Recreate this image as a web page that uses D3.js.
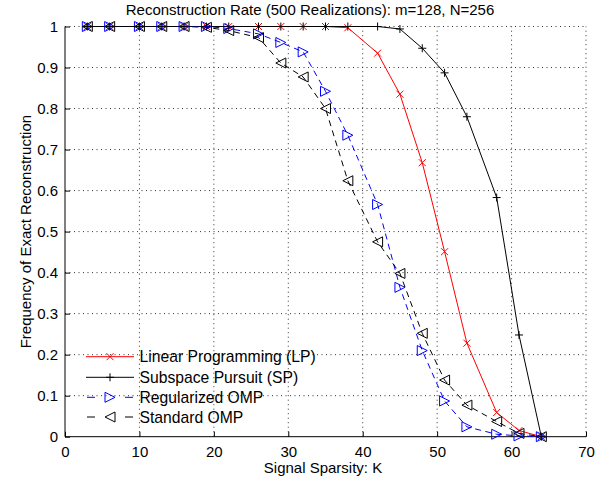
<!DOCTYPE html>
<html><head><meta charset="utf-8">
<script src="https://cdn.jsdelivr.net/npm/d3@7"></script>
<style>html,body{margin:0;padding:0;background:#fff}svg{display:block}text{font-family:"Liberation Sans",Arial,Helvetica,sans-serif}</style>
</head><body><svg id="c" width="609" height="485"></svg>
<script>
const sparsity = [3,6,10,13,16,19,22,26,29,32,35,38,42,45,48,51,54,58,61,64];
const lpValues   = [1,1,1,1,1,1,1,1,1,1,1,0.997,0.935,0.835,0.668,0.451,0.228,0.059,0.015,0];
const spValues   = [1,1,1,1,1,1,1,1,1,1,1,1,1,0.994,0.947,0.887,0.78,0.583,0.248,0];
const rompValues = [1,1,1,1,1,1,0.995,0.982,0.961,0.938,0.842,0.735,0.566,0.364,0.21,0.087,0.024,0.006,0.002,0];
const ompValues  = [1,1,1,1,1,0.998,0.99,0.973,0.911,0.877,0.8,0.624,0.475,0.398,0.252,0.138,0.077,0.037,0.008,0];
const seriesNames = ["Linear Programming (LP)","Subspace Pursuit (SP)","Regularized OMP","Standard OMP"];
const xTicks = [0,10,20,30,40,50,60,70];
const yTicks = [0,0.1,0.2,0.3,0.4,0.5,0.6,0.7,0.8,0.9,1];
const titleText = "Reconstruction Rate (500 Realizations): m=128, N=256";
const xLabel = "Signal Sparsity: K";
const yLabel = "Frequency of Exact Reconstruction";

const svg = d3.select("#c");
const L=65, R=586, T=26.5, B=436.7;
const x = d3.scaleLinear().domain([0,70]).range([L,R]);
const y = d3.scaleLinear().domain([0,1]).range([B,T]);

svg.append("rect").attr("width",609).attr("height",485).attr("fill","#fff");

// grid
const g = svg.append("g");
g.selectAll(".gx").data(xTicks.filter(d=>d>0)).join("line")
  .attr("x1",d=>x(d)).attr("x2",d=>x(d)).attr("y1",B).attr("y2",T)
  .attr("stroke","#333").attr("stroke-width",1).attr("stroke-dasharray","1,3.5");
g.selectAll(".gy").data(yTicks.filter(d=>d>0)).join("line")
  .attr("y1",d=>y(d)).attr("y2",d=>y(d)).attr("x1",L).attr("x2",R)
  .attr("stroke","#333").attr("stroke-width",1).attr("stroke-dasharray","1,3.5");

// axes
const xAxis = d3.axisBottom(x).tickValues(xTicks).tickSize(-5).tickPadding(10).tickFormat(d3.format("d"));
const yAxis = d3.axisLeft(y).tickValues(yTicks).tickSize(-5).tickPadding(7).tickFormat(d=>d===0||d===1?String(d):d3.format(".1f")(d));
const gx = svg.append("g").attr("transform",`translate(0,${B})`).call(xAxis);
const gy = svg.append("g").attr("transform",`translate(${L},0)`).call(yAxis);
[gx,gy].forEach(a=>{
  a.select(".domain").attr("stroke","#000").attr("stroke-width",1);
  a.selectAll(".tick line").attr("stroke","#000");
  a.selectAll("text").attr("font-size",15).attr("fill","#000").attr("font-family","Liberation Sans, Arial, sans-serif");
});
gx.select(".domain").attr("d",`M${L},0H${R}`);
gy.select(".domain").attr("d",`M0,${B}V${T}`);

// text
svg.append("text").attr("x",310).attr("y",14.5).attr("text-anchor","middle").attr("font-size",15).text(titleText);
svg.append("text").attr("x",323).attr("y",473).attr("text-anchor","middle").attr("font-size",15).text(xLabel);
svg.append("text").attr("transform",`translate(31,${(T+B)/2}) rotate(-90)`).attr("text-anchor","middle").attr("font-size",15).text(yLabel);

// series
const series = [
  {name:seriesNames[0], vals:lpValues, color:"#ff0000", dash:null, marker:"x"},
  {name:seriesNames[1], vals:spValues, color:"#000000", dash:null, marker:"+"},
  {name:seriesNames[2], vals:rompValues, color:"#0000ff", dash:"6,4.5", marker:">"},
  {name:seriesNames[3], vals:ompValues, color:"#000000", dash:"6,4.5", marker:"<"}
];
function markerPath(m){
  if(m==="x"){ const s=3.5; return `M${-s},${-s}L${s},${s}M${-s},${s}L${s},${-s}`; }
  if(m==="+"){ const s=4; return `M${-s},0L${s},0M0,${-s}L0,${s}`; }
  const s=5;
  if(m===">") return `M${-s},${-s}L${s},0L${-s},${s}Z`;
  if(m==="<") return `M${s},${-s}L${-s},0L${s},${s}Z`;
}
const line = d3.line().x(d=>x(d[0])).y(d=>y(d[1]));
series.forEach(s=>{
  const pts = sparsity.map((k,i)=>[k,s.vals[i]]);
  const sg = svg.append("g");
  sg.append("path").attr("d",line(pts)).attr("fill","none").attr("stroke",s.color).attr("stroke-width",1)
    .attr("stroke-dasharray",s.dash);
  sg.selectAll("path.m").data(pts).join("path").attr("class","m")
    .attr("transform",d=>`translate(${x(d[0])},${y(d[1])})`)
    .attr("d",markerPath(s.marker)).attr("fill","none").attr("stroke",s.color).attr("stroke-width",1);
});

// legend
const legY = [356.7,377.3,397.3,417];
series.forEach((s,i)=>{
  const lg = svg.append("g").attr("transform",`translate(0,${legY[i]})`);
  if(s.dash){
    lg.append("line").attr("x1",87).attr("x2",95).attr("stroke",s.color);
    lg.append("line").attr("x1",125).attr("x2",133).attr("stroke",s.color);
  } else {
    lg.append("line").attr("x1",86).attr("x2",134).attr("stroke",s.color);
  }
  lg.append("path").attr("transform","translate(110,0)").attr("d",markerPath(s.marker)).attr("fill","none").attr("stroke",s.color);
  lg.append("text").attr("x",139.5).attr("y",5.7).attr("font-size",15.7).text(s.name);
});
</script></body></html>
